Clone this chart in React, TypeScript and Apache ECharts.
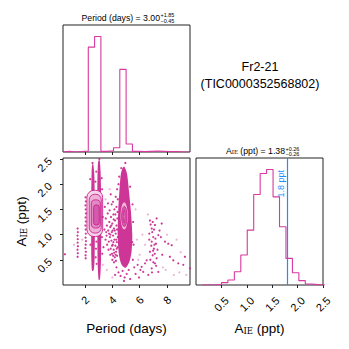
import React, { useEffect, useRef } from "react";
import * as echarts from "echarts";

// ---------- data ----------
const periodRange = [0.39, 9.68];
const ampRange = [0, 2.5];
const scatterAmpRange = [0, 2.52];

const periodBinStart = 0.396;
const periodBinWidth = 0.461;
const periodCounts = [2, 0, 1, 3, 316, 348, 2, 4, 13, 249, 24, 2, 1, 2, 3, 2, 1, 1, 0, 0];

const ampBinStart = 0.12;
const ampBinWidth = 0.127;
const ampCounts = [0, 0, 2, 7, 15, 40, 90, 165, 272, 335, 347, 265, 175, 80, 37, 13, 3, 1, 0, 0];

const periodTicks = [2, 4, 6, 8];
const ampTicks = [0.5, 1.0, 1.5, 2.0, 2.5];
const markerValue = 1.8;

const periodTitle = { label: "Period (days) = 3.00", plus: "+1.85", minus: "\u22120.45" };
const ampTitle = { value: "1.38", plus: "+0.26", minus: "\u22120.26" };
const objectName = ["Fr2-21", "(TIC0000352568802)"];

// dense regions of samples (period, amplitude) outlines
const streakLeft = [[2.52, 2.38], [2.60, 2.40], [2.68, 2.20], [2.71, 1.80], [2.72, 1.00], [2.70, 0.50], [2.64, 0.30], [2.52, 0.28], [2.47, 0.45], [2.45, 1.00], [2.46, 1.80], [2.48, 2.20]];
const streakRight = [[2.97, 2.46], [3.07, 2.48], [3.14, 2.25], [3.18, 1.80], [3.19, 1.00], [3.17, 0.50], [3.10, 0.12], [3.00, 0.10], [2.93, 0.40], [2.90, 1.00], [2.90, 1.80], [2.92, 2.25]];
const blobB = [[4.87, 2.35], [5.07, 2.21], [5.22, 1.85], [5.36, 1.46], [5.46, 0.99], [5.41, 0.67], [5.26, 0.47], [4.97, 0.34], [4.68, 0.40], [4.48, 0.60], [4.39, 0.99], [4.43, 1.46], [4.51, 1.85], [4.61, 2.18], [4.73, 2.31]];
const denseRegions = [streakLeft, streakRight, blobB];

// contour levels: [pMin, pMax, aMin, aMax]
const contourA = [[2.14, 3.29, 0.96, 1.88], [2.31, 3.19, 1.03, 1.80], [2.46, 3.12, 1.13, 1.69], [2.63, 3.04, 1.19, 1.59]];
// contour levels: [pCenter, aCenter, pRadius, aRadius]
const contourB = [[4.865, 1.37, 0.305, 0.28], [4.875, 1.36, 0.195, 0.2], [4.86, 1.36, 0.06, 0.13]];

const pointsDark = [
  [1.46, 1.12], [1.48, 1.05], [1.45, 0.98], [1.47, 0.91], [1.46, 0.84], [1.48, 0.77], [1.45, 0.70], [1.47, 0.63], [1.46, 0.56],
  [2.04, 1.74], [2.06, 1.66], [2.03, 1.58], [2.05, 1.50], [2.07, 1.42], [2.04, 1.34], [2.06, 1.26], [2.03, 1.18], [2.05, 1.10],
  [2.06, 1.02], [2.04, 0.94], [2.07, 0.87], [2.05, 0.80], [2.03, 0.73], [2.06, 0.66], [2.04, 0.59], [2.05, 0.53],
  [0.53, 0.61],
  [2.80, 0.72], [2.78, 0.55], [2.83, 0.86], [2.85, 0.42], [2.76, 2.05], [2.82, 2.25], [3.24, 0.95], [3.26, 0.62], [3.25, 1.90],
  [3.22, 2.12], [2.40, 0.80], [2.38, 2.10],
  [3.45, 1.55], [3.52, 1.32], [3.60, 1.18], [3.58, 0.98], [3.66, 1.42], [3.70, 1.08], [3.74, 0.86], [3.78, 1.25], [3.82, 0.95],
  [3.85, 1.15], [3.88, 0.72], [3.90, 1.35], [3.93, 0.88], [3.96, 1.05], [3.98, 0.62], [4.00, 1.22], [4.03, 0.80], [4.05, 0.98],
  [4.08, 1.40], [4.10, 0.70], [4.12, 1.12], [4.15, 0.90], [4.18, 0.55], [4.20, 1.28], [4.22, 0.78], [4.25, 1.02], [4.28, 0.66],
  [4.30, 1.18], [4.33, 0.85], [4.35, 0.58], [4.37, 1.32], [4.40, 0.95], [3.72, 0.70], [3.62, 0.80], [3.55, 1.05], [3.80, 1.48],
  [3.95, 1.60], [4.05, 1.65], [4.15, 1.50], [4.25, 1.75], [3.68, 1.62], [3.85, 0.60], [4.00, 0.50], [4.12, 0.45], [4.26, 0.48],
  [3.76, 1.02], [3.92, 1.18], [4.08, 0.85], [4.18, 1.08], [4.32, 0.72], [3.50, 0.90], [3.42, 1.10], [3.88, 1.80], [4.35, 1.90],
  [3.30, 1.35], [3.35, 0.75], [4.02, 1.08], [4.14, 0.64], [4.22, 1.40], [4.28, 0.90], [4.34, 1.10], [4.38, 0.75], [4.10, 1.30],
  [3.98, 0.78], [4.06, 0.58], [4.24, 0.60], [4.30, 1.55], [4.38, 1.45], [3.86, 1.00],
  [4.30, 0.35], [4.45, 0.25], [4.60, 0.18], [4.75, 0.28], [4.90, 0.15], [5.05, 0.22], [5.20, 0.30], [4.20, 0.20], [4.85, 0.08], [5.30, 0.12],
  [5.50, 0.50], [5.60, 0.35], [5.70, 0.22], [5.85, 0.40], [5.95, 0.15], [6.05, 0.30], [5.55, 0.80], [5.52, 1.25], [5.48, 1.60],
  [4.40, 1.70], [4.45, 2.00], [4.50, 2.15], [5.30, 1.95], [5.45, 0.85], [4.65, 2.32], [4.95, 2.42], [3.05, 2.50], [2.55, 2.42],
  [6.75, 1.28], [7.24, 1.32], [7.61, 1.22], [6.88, 1.12], [7.12, 1.19], [6.70, 1.02], [6.99, 0.95], [7.36, 0.99], [6.88, 0.86],
  [7.19, 0.82], [7.04, 0.72], [6.75, 0.66], [6.95, 0.59], [7.24, 0.53], [7.12, 0.43], [6.88, 0.33], [7.36, 0.26], [6.63, 0.20],
  [6.80, 1.20], [6.92, 1.05], [7.05, 1.10], [7.15, 0.92], [6.85, 0.78], [6.98, 0.68], [7.10, 0.62], [7.30, 0.70], [6.78, 0.50],
  [7.00, 0.45], [7.20, 0.38], [6.90, 0.25], [7.45, 1.08], [7.55, 0.95], [7.65, 0.60], [6.70, 0.90], [7.08, 0.80], [6.95, 1.25],
  [7.85, 0.86], [8.09, 0.82], [8.34, 0.79], [8.21, 0.56], [8.46, 0.49], [8.82, 0.43], [9.19, 0.40], [9.31, 0.56], [9.68, 0.33],
  [6.14, 0.36], [6.39, 0.43], [6.26, 0.26], [6.51, 0.49],
];
const pointsLight = [
  [5.80, 0.90], [6.00, 0.60], [6.40, 0.80], [7.90, 0.30], [8.50, 0.20], [9.00, 0.65], [8.70, 0.90], [6.20, 1.00], [5.90, 0.50],
  [3.30, 0.40], [3.60, 0.30], [4.00, 0.15], [9.40, 0.20], [8.00, 1.00], [1.80, 0.90], [1.20, 0.80], [3.50, 1.70], [3.80, 1.90],
  [7.70, 0.35], [8.90, 0.25], [6.60, 1.40], [5.70, 1.50],
];

// ---------- styles ----------
const FONT = "'Liberation Sans', Arial, Helvetica, sans-serif";
const SERIF = "'DejaVu Serif', 'Liberation Serif', serif";
const MAGENTA = "#c9258d";
const HIST = "#d8389f";
const BLUE = "#1e8fff";
const FRAME = "#222";
const contourFillA = ["#f6d4ea", "#eeb0d7", "#e389c4", "#d45aac"];
const contourFillB = ["#f0b3d9", "#d75cae", "#ecaad3"];

function steps(start: number, width: number, counts: number[]) {
  const pts: number[][] = [[start, 0]];
  counts.forEach((c, i) => {
    pts.push([start + i * width, c]);
    pts.push([start + (i + 1) * width, c]);
  });
  pts.push([start + counts.length * width, 0]);
  return pts;
}

export default function App() {
  const ref = useRef<HTMLDivElement>(null);
  useEffect(() => {
    document.body.style.margin = "0";
    if (!ref.current) return;
    const chart = echarts.init(ref.current, null, { renderer: "svg" });
    const tickStyle = { show: true, length: 3, inside: false, lineStyle: { color: FRAME, width: 1 } };
    const noLine = { show: false };
    const gridBase = { show: true, borderColor: FRAME, borderWidth: 1, backgroundColor: "transparent", width: 127, height: 127 };
    const labelBase = { fontSize: 11, color: "#000", fontFamily: FONT };
    const nameRich = {
      a: { fontSize: 13.5, fontFamily: FONT, color: "#000" },
      s: { fontSize: 8.5, fontFamily: SERIF, color: "#000", verticalAlign: "bottom", lineHeight: 9 },
    };
    const option: any = {
      animation: false,
      grid: [
        { ...gridBase, left: 63, top: 25 },
        { ...gridBase, left: 63, top: 158 },
        { ...gridBase, left: 196, top: 158 },
      ],
      xAxis: [
        {
          gridIndex: 0, type: "value", min: periodRange[0], max: periodRange[1],
          axisLine: noLine, splitLine: noLine,
          axisTick: { ...tickStyle, customValues: periodTicks },
          axisLabel: { show: false },
        },
        {
          gridIndex: 1, type: "value", min: periodRange[0], max: periodRange[1],
          axisLine: noLine, splitLine: noLine,
          axisTick: { ...tickStyle, customValues: periodTicks },
          axisLabel: { ...labelBase, customValues: periodTicks, rotate: 45, align: "center", verticalAlign: "middle", margin: 15 },
          name: "Period (days)", nameLocation: "middle", nameGap: 36,
          nameTextStyle: { fontSize: 13.5, fontFamily: FONT, color: "#000" },
        },
        {
          gridIndex: 2, type: "value", min: ampRange[0], max: ampRange[1],
          axisLine: noLine, splitLine: noLine,
          axisTick: { ...tickStyle, customValues: ampTicks },
          axisLabel: { ...labelBase, customValues: ampTicks, rotate: 45, align: "center", verticalAlign: "middle", margin: 19, formatter: (v: number) => v.toFixed(1) },
          name: "{a|A}{s|IE}{a| (ppt)}", nameLocation: "middle", nameGap: 36,
          nameTextStyle: { rich: nameRich },
        },
      ],
      yAxis: [
        { gridIndex: 0, type: "value", min: 0, max: 1.1 * Math.max(...periodCounts), show: false },
        {
          gridIndex: 1, type: "value", min: scatterAmpRange[0], max: scatterAmpRange[1],
          axisLine: noLine, splitLine: noLine,
          axisTick: { ...tickStyle, customValues: ampTicks },
          axisLabel: { ...labelBase, customValues: ampTicks, rotate: 45, margin: 13, formatter: (v: number) => v.toFixed(1) },
          name: "{a|A}{s|IE}{a| (ppt)}", nameLocation: "middle", nameGap: 35,
          nameTextStyle: { rich: nameRich },
        },
        { gridIndex: 2, type: "value", min: 0, max: 1.1 * Math.max(...ampCounts), show: false },
      ],
      series: [
        {
          type: "line", xAxisIndex: 0, yAxisIndex: 0, data: steps(periodBinStart, periodBinWidth, periodCounts),
          showSymbol: false, symbol: "none", silent: true, lineStyle: { color: HIST, width: 1.1 },
        },
        {
          type: "scatter", xAxisIndex: 1, yAxisIndex: 1, data: pointsLight, symbol: "circle", symbolSize: 2.2,
          silent: true, itemStyle: { color: MAGENTA, opacity: 0.35 },
        },
        {
          type: "scatter", xAxisIndex: 1, yAxisIndex: 1, data: pointsDark, symbol: "circle", symbolSize: 2.2,
          silent: true, itemStyle: { color: MAGENTA, opacity: 0.9 },
        },
        {
          type: "custom", xAxisIndex: 1, yAxisIndex: 1, silent: true, clip: true,
          data: denseRegions.map((poly, i) => [poly[0][0], poly[0][1], i]),
          renderItem: (params: any, api: any) => {
            const poly = denseRegions[params.dataIndex];
            return {
              type: "polygon",
              shape: { points: poly.map((pt) => api.coord(pt)), smooth: 0.25 },
              style: { fill: MAGENTA, opacity: 0.92 },
            };
          },
        },
        {
          type: "custom", xAxisIndex: 1, yAxisIndex: 1, silent: true, clip: true,
          data: contourA.map((c, i) => [c[0], c[2], i]),
          renderItem: (params: any, api: any) => {
            const c = contourA[params.dataIndex];
            const tl = api.coord([c[0], c[3]]);
            const br = api.coord([c[1], c[2]]);
            const w = br[0] - tl[0];
            const h = br[1] - tl[1];
            return {
              type: "rect",
              shape: { x: tl[0], y: tl[1], width: w, height: h, r: Math.min(w, h) * 0.45 },
              style: { fill: contourFillA[params.dataIndex], stroke: MAGENTA, lineWidth: 0.9 },
            };
          },
        },
        {
          type: "custom", xAxisIndex: 1, yAxisIndex: 1, silent: true, clip: true,
          data: contourB.map((c, i) => [c[0], c[1], i]),
          renderItem: (params: any, api: any) => {
            const c = contourB[params.dataIndex];
            const ctr = api.coord([c[0], c[1]]);
            const sz = api.size([c[2], c[3]]);
            return {
              type: "ellipse",
              shape: { cx: ctr[0], cy: ctr[1], rx: sz[0], ry: sz[1] },
              style: { fill: contourFillB[params.dataIndex], stroke: MAGENTA, lineWidth: 0.9 },
            };
          },
        },
        {
          type: "line", xAxisIndex: 2, yAxisIndex: 2, data: steps(ampBinStart, ampBinWidth, ampCounts),
          showSymbol: false, symbol: "none", silent: true, lineStyle: { color: HIST, width: 1.1 },
          markLine: {
            silent: true, symbol: ["none", "none"], animation: false,
            lineStyle: { color: BLUE, width: 1.2, type: "solid" },
            label: {
              show: true, formatter: `${markerValue} ppt`, position: "insideEndTop",
              color: BLUE, fontSize: 9, fontFamily: FONT, distance: 2, padding: [0, 10, 0, 0],
            },
            emphasis: { disabled: true },
            data: [{ xAxis: markerValue }],
          },
        },
      ],
      graphic: [
        { type: "text", x: 160, y: 17.5, style: { text: periodTitle.label, fontSize: 8.7, fontFamily: FONT, fill: "#000", align: "right", verticalAlign: "middle" } },
        { type: "text", x: 160.5, y: 15, style: { text: periodTitle.plus, fontSize: 5.5, fontFamily: FONT, fill: "#000", align: "left", verticalAlign: "middle" } },
        { type: "text", x: 160.5, y: 20.5, style: { text: periodTitle.minus, fontSize: 5.5, fontFamily: FONT, fill: "#000", align: "left", verticalAlign: "middle" } },
        {
          type: "text", x: 285, y: 150.5,
          style: {
            text: `{a|A}{s|IE}{a| (ppt) = ${ampTitle.value}}`, align: "right", verticalAlign: "middle",
            rich: {
              a: { fontSize: 8.7, fontFamily: FONT, fill: "#000" },
              s: { fontSize: 5.5, fontFamily: SERIF, fill: "#000", verticalAlign: "bottom", lineHeight: 6 },
            },
          },
        },
        { type: "text", x: 285.5, y: 148.5, style: { text: ampTitle.plus, fontSize: 5.5, fontFamily: FONT, fill: "#000", align: "left", verticalAlign: "middle" } },
        { type: "text", x: 285.5, y: 154, style: { text: ampTitle.minus, fontSize: 5.5, fontFamily: FONT, fill: "#000", align: "left", verticalAlign: "middle" } },
        { type: "text", x: 260, y: 67, style: { text: objectName[0], fontSize: 12.5, fontFamily: FONT, fill: "#000", align: "center", verticalAlign: "middle" } },
        { type: "text", x: 260, y: 83.5, style: { text: objectName[1], fontSize: 12.5, fontFamily: FONT, fill: "#000", align: "center", verticalAlign: "middle" } },
      ],
    };
    chart.setOption(option);
    return () => chart.dispose();
  }, []);
  return <div ref={ref} style={{ width: 349, height: 349 }} />;
}
